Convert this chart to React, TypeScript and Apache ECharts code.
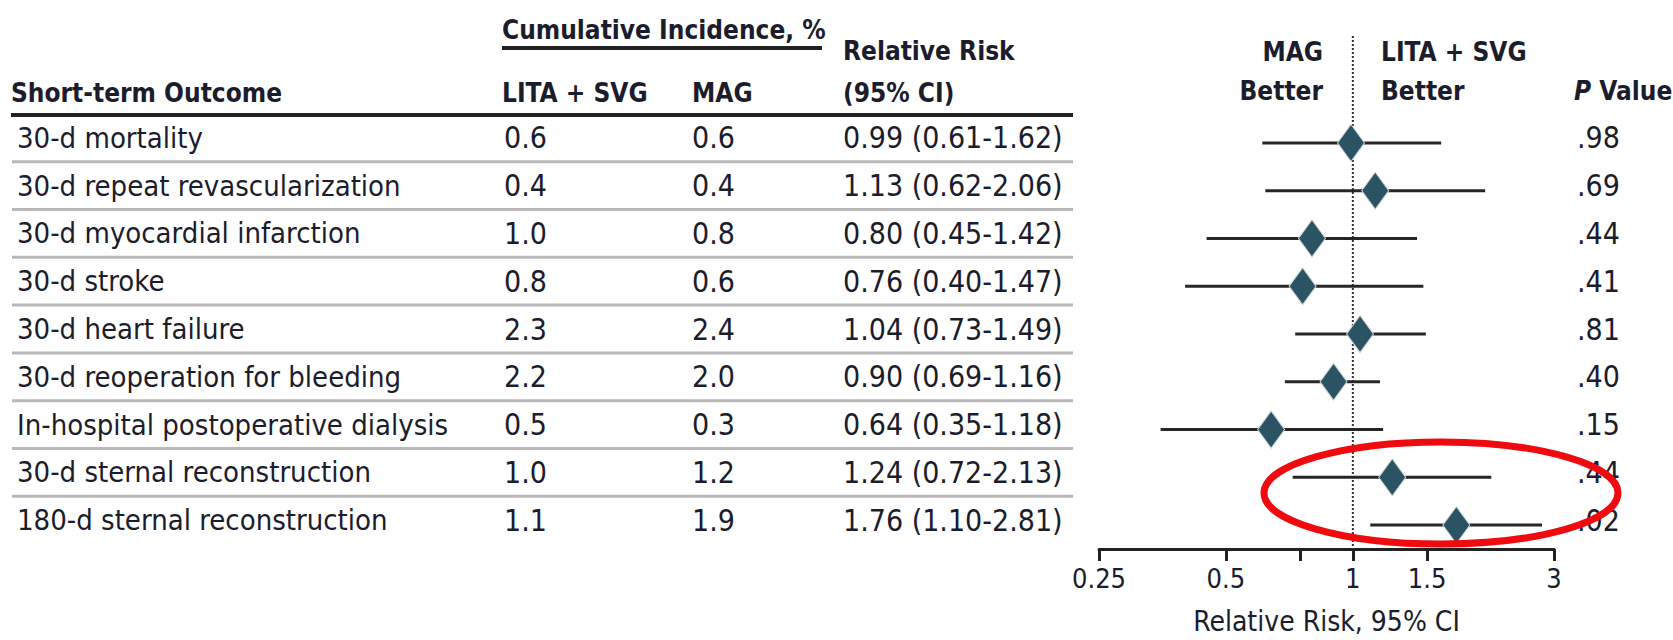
import { useEffect, useRef } from 'react';
import * as echarts from 'echarts';

// ---- data ----
const outcomes = [
  '30-d mortality',
  '30-d repeat revascularization',
  '30-d myocardial infarction',
  '30-d stroke',
  '30-d heart failure',
  '30-d reoperation for bleeding',
  'In-hospital postoperative dialysis',
  '30-d sternal reconstruction',
  '180-d sternal reconstruction',
];
const litaSvg = [0.6, 0.4, 1.0, 0.8, 2.3, 2.2, 0.5, 1.0, 1.1];
const mag = [0.6, 0.4, 0.8, 0.6, 2.4, 2.0, 0.3, 1.2, 1.9];
const rr = [0.99, 1.13, 0.8, 0.76, 1.04, 0.9, 0.64, 1.24, 1.76];
const ciLow = [0.61, 0.62, 0.45, 0.4, 0.73, 0.69, 0.35, 0.72, 1.1];
const ciHigh = [1.62, 2.06, 1.42, 1.47, 1.49, 1.16, 1.18, 2.13, 2.81];
const pValues = ['.98', '.69', '.44', '.41', '.81', '.40', '.15', '.44', '.02'];
const tickValues = [0.25, 0.5, 0.75, 1, 1.5, 3];
const tickLabels = [0.25, 0.5, 1, 1.5, 3];

const FONT = '"Liberation Sans Narrow", "DejaVu Sans Condensed", "Arial Narrow", sans-serif';
const INK = '#1b1c2c';
const FS = 29; // row labels
const FS_NUM = 30; // numbers
const FS_HEAD = 26; // bold headers

const fmt2 = (v: number) => v.toFixed(2);
const rrText = (i: number) => `${fmt2(rr[i])} (${fmt2(ciLow[i])}-${fmt2(ciHigh[i])})`;
const lg = (v: number) => Math.log2(v);

function txt(x: number, y: number, text: string, opts: any = {}) {
  const size = opts.size || (opts.bold ? FS_HEAD : FS);
  return {
    type: 'text',
    x,
    y,
    silent: true,
    style: {
      text,
      fill: INK,
      fontSize: size,
      fontFamily: FONT,
      fontWeight: opts.bold ? 'bold' : 'normal',
      align: opts.align || 'left',
      textAlign: opts.align || 'left',
      verticalAlign: 'middle',
      textVerticalAlign: 'middle',
      rich: opts.rich,
    },
  };
}

export default function App() {
  const ref = useRef<HTMLDivElement>(null);

  useEffect(() => {
    if (!ref.current) return;
    const chart = echarts.init(ref.current, null, { renderer: 'svg' });

    const labelMap: Record<string, string> = {};
    tickLabels.forEach((v) => (labelMap[lg(v).toFixed(6)] = String(v)));

    const option: any = {
      animation: false,
      grid: { left: 1099, width: 455, top: 119, height: 433, containLabel: false },
      xAxis: {
        type: 'value',
        min: lg(0.25),
        max: lg(3),
        splitLine: { show: false },
        axisLine: { show: true, onZero: false, lineStyle: { color: '#222', width: 3 } },
        axisTick: {
          show: true,
          length: 12,
          lineStyle: { color: '#222', width: 3 },
          customValues: tickValues.map(lg),
        },
        axisLabel: {
          customValues: tickLabels.map(lg),
          formatter: (v: number) => labelMap[v.toFixed(6)] ?? '',
          color: INK,
          fontSize: 27,
          fontFamily: FONT,
          margin: 16,
        },
        name: 'Relative Risk, 95% CI',
        nameLocation: 'middle',
        nameGap: 58,
        nameTextStyle: { color: INK, fontSize: 28, fontFamily: FONT },
      },
      yAxis: {
        type: 'category',
        inverse: true,
        data: outcomes,
        show: false,
      },
      series: [
        {
          // table text, row separators and the null line
          type: 'custom',
          clip: false,
          silent: true,
          data: outcomes.map((_, i) => [i]),
          encode: { y: 0 },
          renderItem: (params: any, api: any) => {
            const i = api.value(0);
            const y = api.coord([0, i])[1];
            const band = api.size([0, 1])[1];
            const ty = y - 5;
            const children: any[] = [
              txt(17, ty, outcomes[i]),
              txt(504, ty, litaSvg[i].toFixed(1), { size: FS_NUM }),
              txt(692, ty, mag[i].toFixed(1), { size: FS_NUM }),
              txt(843, ty, rrText(i), { size: FS_NUM }),
              txt(1577, ty, pValues[i], { size: FS_NUM }),
            ];
            if (i < outcomes.length - 1) {
              const ly = y + band / 2 - 5;
              children.push({
                type: 'line',
                shape: { x1: 12, y1: ly, x2: 1073, y2: ly },
                style: { stroke: '#b8b8b8', lineWidth: 3 },
              });
            }
            if (i === 0) {
              const x0 = api.coord([0, 0])[0];
              const yBottom = api.coord([0, outcomes.length - 1])[1] + band / 2;
              children.push({
                type: 'line',
                shape: { x1: x0, y1: 36, x2: x0, y2: yBottom },
                style: { stroke: '#333', lineWidth: 2, lineDash: [2, 2] },
              });
            }
            return { type: 'group', children };
          },
        },
        {
          // confidence intervals
          type: 'custom',
          silent: true,
          data: outcomes.map((_, i) => [i, lg(ciLow[i]), lg(ciHigh[i])]),
          encode: { x: [1, 2], y: 0 },
          renderItem: (params: any, api: any) => {
            const a = api.coord([api.value(1), api.value(0)]);
            const b = api.coord([api.value(2), api.value(0)]);
            return {
              type: 'line',
              shape: { x1: a[0], y1: a[1], x2: b[0], y2: b[1] },
              style: { stroke: '#262626', lineWidth: 3 },
            };
          },
          z: 3,
        },
        {
          type: 'scatter',
          symbol: 'diamond',
          symbolSize: [27, 37],
          silent: true,
          itemStyle: { color: '#2b5363', opacity: 1, borderColor: '#c9d6db', borderWidth: 1 },
          data: outcomes.map((_, i) => [lg(rr[i]), i]),
          z: 4,
        },
      ],
      graphic: [
        txt(502, 30, 'Cumulative Incidence, %', { bold: true }),
        {
          type: 'line',
          shape: { x1: 502, y1: 48, x2: 822, y2: 48 },
          style: { stroke: '#222', lineWidth: 4 },
        },
        txt(843, 51, 'Relative Risk', { bold: true }),
        txt(11, 93, 'Short-term Outcome', { bold: true }),
        txt(502, 93, 'LITA + SVG', { bold: true }),
        txt(692, 93, 'MAG', { bold: true }),
        txt(843, 93, '(95% CI)', { bold: true }),
        {
          type: 'line',
          shape: { x1: 11, y1: 115, x2: 1073, y2: 115 },
          style: { stroke: '#222', lineWidth: 4 },
        },
        txt(1323, 52, 'MAG', { bold: true, align: 'right' }),
        txt(1323, 91, 'Better', { bold: true, align: 'right' }),
        txt(1381, 52, 'LITA + SVG', { bold: true }),
        txt(1381, 91, 'Better', { bold: true }),
        txt(1574, 91, '{i|P} Value', {
          bold: true,
          rich: { i: { fontStyle: 'italic', fontWeight: 'bold', fontSize: FS_HEAD, fontFamily: FONT, fill: INK } },
        }),
        {
          type: 'ellipse',
          shape: { cx: 1441, cy: 493, rx: 177, ry: 51 },
          silent: true,
          style: { fill: 'none', stroke: '#ee0a0f', lineWidth: 7 },
          z: 100,
        },
      ],
    };

    chart.setOption(option);
    return () => chart.dispose();
  }, []);

  return (
    <div
      ref={ref}
      style={{ position: 'fixed', left: 0, top: 0, width: 1673, height: 640, background: '#fff' }}
    />
  );
}
